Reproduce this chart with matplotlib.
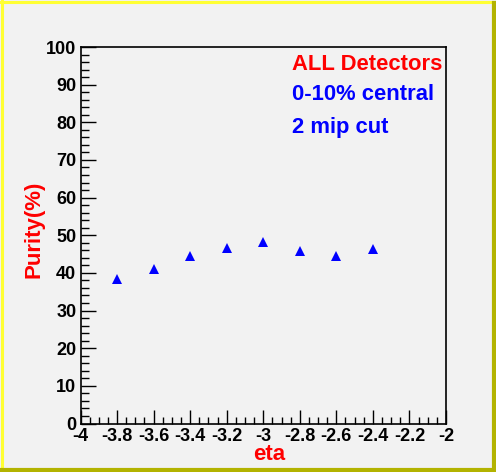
import matplotlib
matplotlib.use("Agg")
import matplotlib.pyplot as plt
from matplotlib.ticker import MultipleLocator, FixedLocator
from matplotlib.lines import Line2D

eta = [-3.8, -3.6, -3.4, -3.2, -3.0, -2.8, -2.6, -2.4]
purity = [38.3, 41.0, 44.6, 46.5, 48.3, 45.7, 44.6, 46.3]
xticks = [-4, -3.8, -3.6, -3.4, -3.2, -3, -2.8, -2.6, -2.4, -2.2, -2]
xticklabels = ["-4", "-3.8", "-3.6", "-3.4", "-3.2", "-3", "-2.8", "-2.6", "-2.4", "-2.2", "-2"]
yticks = [0, 10, 20, 30, 40, 50, 60, 70, 80, 90, 100]

plt.rcParams['font.family'] = ['Liberation Sans', 'DejaVu Sans']
plt.rcParams['font.weight'] = 'bold'

W, H = 496, 472
fig = plt.figure(figsize=(W / 100, H / 100), dpi=100)
bg = '#f2f2f2'
fig.patch.set_facecolor(bg)

left, right, bottom, top = 80.5, 446, 423.5, 47
ax = fig.add_axes([left / W, (H - bottom) / H, (right - left) / W, (bottom - top) / H])
ax.set_facecolor(bg)

ax.plot(eta, purity, linestyle='none', marker='^', color='#0000ff', markersize=7, markeredgewidth=0)

ax.set_xlim(-4, -2)
ax.set_ylim(0, 100)
ax.xaxis.set_major_locator(FixedLocator(xticks))
ax.set_xticklabels(xticklabels)
ax.xaxis.set_minor_locator(MultipleLocator(0.05))
ax.yaxis.set_major_locator(FixedLocator(yticks))
ax.yaxis.set_minor_locator(MultipleLocator(2))

ax.tick_params(axis='x', which='major', direction='in', length=10, width=1, labelsize=13, pad=3, top=False)
ax.tick_params(axis='x', which='minor', direction='in', length=5, width=1, top=False)
ax.tick_params(axis='y', which='major', direction='in', length=11, width=1, labelsize=13, pad=3, right=False)
ax.tick_params(axis='y', which='minor', direction='in', length=5.5, width=1, right=False)
for lab in ax.get_xticklabels() + ax.get_yticklabels():
    lab.set_fontweight('bold')
for s in ax.spines.values():
    s.set_linewidth(1.2)
    s.set_color('black')

def fx(px):
    return px / W

def fy(py):
    return 1 - py / H

fig.text(fx(269), fy(455), 'eta', color='#ff0000', fontsize=16, fontweight='bold', ha='center', va='center')
fig.text(fx(34), fy(229), 'Purity(%)', color='#ff0000', fontsize=16, fontweight='bold', ha='center', va='center', rotation=90)

fig.text(fx(292), fy(64), 'ALL Detectors', color='#ff0000', fontsize=15.8, fontweight='bold', ha='left', va='center')
fig.text(fx(292), fy(95), '0-10% central', color='#0000ff', fontsize=15.8, fontweight='bold', ha='left', va='center')
fig.text(fx(292), fy(128), '2 mip cut', color='#0000ff', fontsize=15.8, fontweight='bold', ha='left', va='center')

# ROOT-style bevel border
fig.add_artist(Line2D([0, 1], [1 - 1.5 / H, 1 - 1.5 / H], transform=fig.transFigure, color='#ffff33', lw=2.2))
fig.add_artist(Line2D([1.5 / W, 1.5 / W], [0, 1], transform=fig.transFigure, color='#ffff33', lw=2.2))
fig.add_artist(Line2D([0, 1], [2 / H, 2 / H], transform=fig.transFigure, color='#b3b300', lw=3))
fig.add_artist(Line2D([1 - 2 / W, 1 - 2 / W], [0, 1 - 3 / H], transform=fig.transFigure, color='#b3b300', lw=3))

fig.savefig('out.png', dpi=100, facecolor=fig.get_facecolor())
